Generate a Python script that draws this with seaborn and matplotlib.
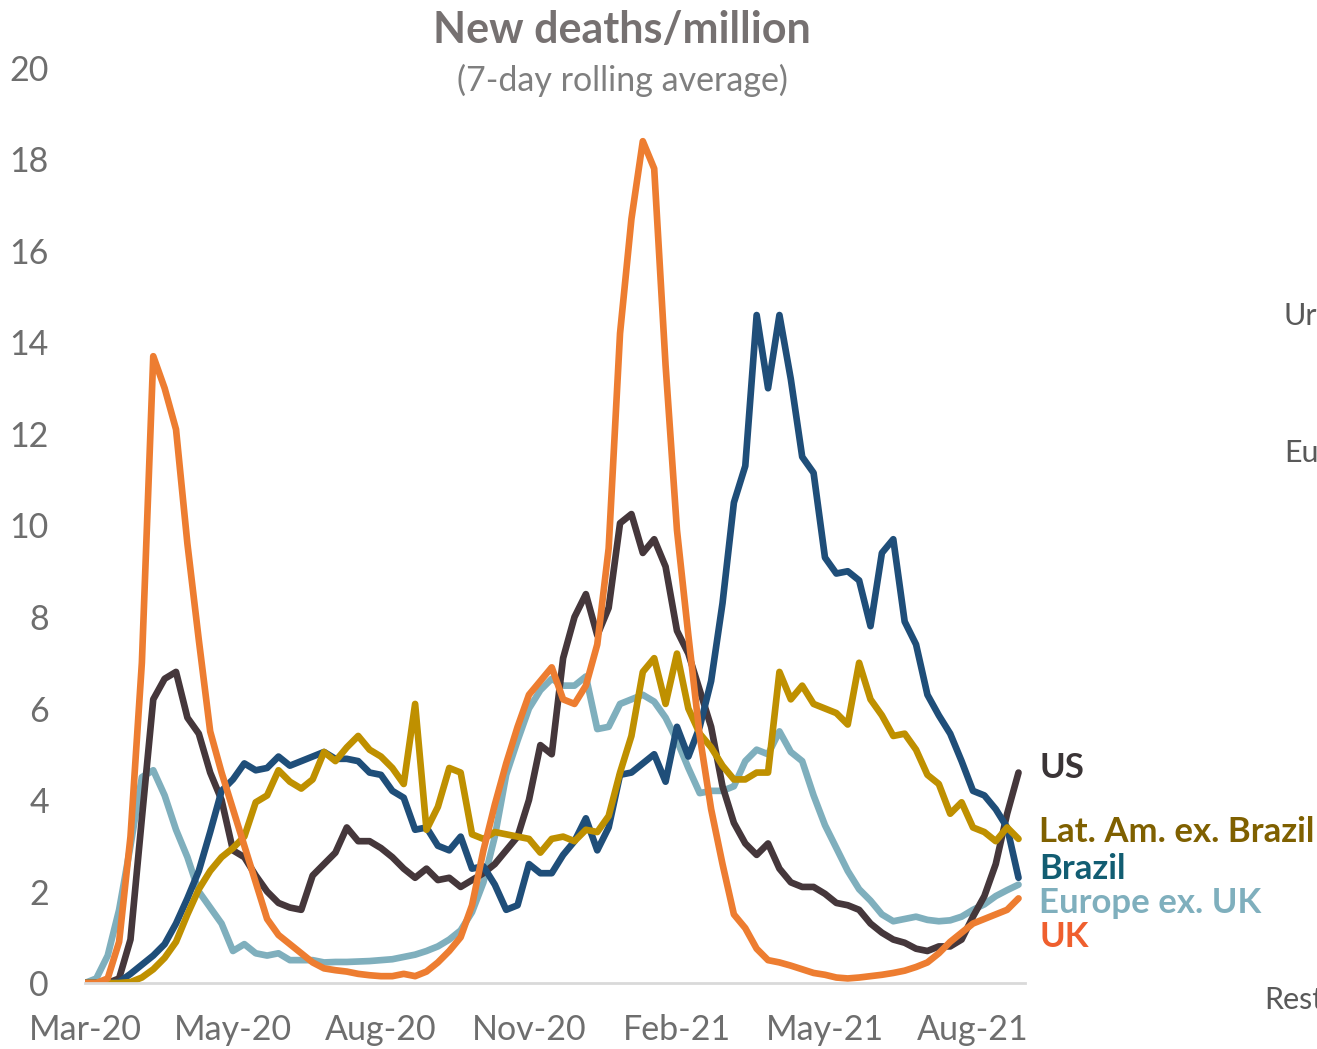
import numpy as np
import pandas as pd
import matplotlib.pyplot as plt
import matplotlib.dates as mdates
import matplotlib.transforms as mtransforms
import seaborn as sns

# weekly readings from 1 Mar 2020, new deaths per million (7-day avg)
start = "2020-03-01"

uk = [0, 0, 0.1, 0.9, 3.2, 7.0, 13.7, 13.0, 12.1, 9.6, 7.5, 5.5, 4.6, 3.8, 3.0, 2.2,
      1.4, 1.05, 0.85, 0.65, 0.45, 0.32, 0.28, 0.25, 0.2, 0.17, 0.15, 0.15, 0.2, 0.15,
      0.25, 0.45, 0.7, 1.0, 1.7, 2.9, 3.9, 4.8, 5.6, 6.3, 6.6, 6.9, 6.2, 6.1, 6.5, 7.4,
      9.5, 14.2, 16.7, 18.4, 17.8, 13.5, 9.9, 7.6, 5.4, 3.8, 2.6, 1.5, 1.2, 0.75, 0.5,
      0.45, 0.38, 0.3, 0.22, 0.18, 0.12, 0.1, 0.12, 0.15, 0.18, 0.22, 0.27, 0.35, 0.45,
      0.65, 0.9, 1.1, 1.3, 1.4, 1.5, 1.6, 1.85]

us = [0, 0, 0, 0.1, 0.95, 3.6, 6.2, 6.65, 6.8, 5.8, 5.45, 4.6, 4.0, 2.9, 2.75, 2.35,
      2.0, 1.75, 1.65, 1.6, 2.35, 2.6, 2.85, 3.4, 3.1, 3.1, 2.95, 2.75, 2.5, 2.3,
      2.5, 2.25, 2.3, 2.1, 2.25, 2.4, 2.6, 2.9, 3.2, 4.0, 5.2, 5.0, 7.1, 8.0, 8.5, 7.6,
      8.2, 10.05, 10.25, 9.4, 9.7, 9.1, 7.7, 7.2, 6.4, 5.6, 4.3, 3.5, 3.05, 2.8, 3.05,
      2.5, 2.2, 2.1, 2.1, 1.95, 1.75, 1.7, 1.6, 1.3, 1.1, 0.95, 0.88, 0.75, 0.7,
      0.8, 0.8, 0.95, 1.45, 1.9, 2.6, 3.7, 4.6]

brazil = [0, 0, 0, 0.02, 0.2, 0.4, 0.6, 0.85, 1.3, 1.85, 2.45, 3.3, 4.2, 4.45, 4.8, 4.65,
          4.7, 4.95, 4.75, 4.85, 4.95, 5.05, 4.9, 4.9, 4.85, 4.6, 4.55, 4.2, 4.05, 3.35,
          3.4, 3.0, 2.9, 3.2, 2.5, 2.55, 2.15, 1.6, 1.7, 2.6, 2.4, 2.4, 2.8, 3.1, 3.6, 2.9,
          3.4, 4.55, 4.6, 4.8, 5.0, 4.4, 5.6, 4.95, 5.6, 6.6, 8.3, 10.5, 11.3, 14.6, 13.0,
          14.6, 13.2, 11.5, 11.15, 9.3, 8.95, 9.0, 8.8, 7.8, 9.4, 9.7, 7.9, 7.4, 6.3,
          5.85, 5.45, 4.85, 4.2, 4.1, 3.8, 3.4, 2.3]

europe = [0, 0.1, 0.6, 1.6, 3.0, 4.5, 4.65, 4.1, 3.35, 2.75, 2.0, 1.65, 1.3, 0.7, 0.85, 0.65,
          0.6, 0.65, 0.5, 0.5, 0.5, 0.45, 0.46, 0.46, 0.47, 0.48, 0.5, 0.52, 0.57, 0.62,
          0.7, 0.8, 0.95, 1.15, 1.55, 2.2, 3.2, 4.55, 5.3, 6.0, 6.4, 6.65, 6.5, 6.5, 6.7, 5.55,
          5.6, 6.1, 6.2, 6.3, 6.15, 5.8, 5.3, 4.7, 4.15, 4.2, 4.2, 4.3, 4.85, 5.1, 5.0,
          5.5, 5.05, 4.85, 4.1, 3.45, 2.95, 2.45, 2.05, 1.8, 1.5, 1.35, 1.4, 1.45, 1.38,
          1.35, 1.37, 1.45, 1.6, 1.72, 1.9, 2.03, 2.15]

latam = [0, 0, 0, 0, 0.02, 0.12, 0.3, 0.55, 0.9, 1.5, 2.05, 2.45, 2.75, 2.95, 3.2, 3.95,
         4.1, 4.65, 4.4, 4.25, 4.45, 5.05, 4.85, 5.15, 5.4, 5.1, 4.95, 4.7, 4.35, 6.1,
         3.35, 3.85, 4.7, 4.6, 3.25, 3.15, 3.3, 3.25, 3.2, 3.15, 2.85, 3.15, 3.2, 3.1, 3.35, 3.3,
         3.65, 4.6, 5.4, 6.8, 7.1, 6.1, 7.2, 6.0, 5.45, 5.15, 4.75, 4.45, 4.45, 4.6, 4.6,
         6.8, 6.2, 6.5, 6.1, 6.0, 5.9, 5.65, 7.0, 6.2, 5.85, 5.4, 5.45, 5.1, 4.55,
         4.35, 3.7, 3.95, 3.4, 3.3, 3.1, 3.4, 3.15]

series = ["Europe ex. UK", "US", "Brazil", "Lat. Am. ex. Brazil", "UK"]
line_colors = {"Europe ex. UK": "#7FAFBD", "US": "#45373B", "Brazil": "#1F4E79",
               "Lat. Am. ex. Brazil": "#BF9000", "UK": "#ED7D31"}
label_colors = {"US": "#3A3436", "Lat. Am. ex. Brazil": "#7F6000", "Brazil": "#125D72",
                "Europe ex. UK": "#7FAFBD", "UK": "#EF5F2E"}
label_y = {"US": 4.7, "Lat. Am. ex. Brazil": 3.3, "Brazil": 2.5, "Europe ex. UK": 1.75, "UK": 1.0}

df = pd.DataFrame({"date": pd.date_range(start, periods=len(uk), freq="7D"),
                   "UK": uk, "US": us, "Brazil": brazil,
                   "Europe ex. UK": europe, "Lat. Am. ex. Brazil": latam})
long = df.melt("date", var_name="series", value_name="value")

sns.set_theme(style="white")
plt.rcParams["font.family"] = ["Lato", "DejaVu Sans"]

fig = plt.figure(figsize=(13.17, 10.49), dpi=100)
ax = fig.add_axes([0.0645, 0.0629, 0.7138, 0.8723])
sns.lineplot(data=long, x="date", y="value", hue="series", hue_order=series,
             palette=line_colors, lw=4.8, ax=ax, legend=False)

t0 = pd.Timestamp(start)
ax.set_xlim(t0, t0 + pd.Timedelta(days=578))
ax.set_ylim(0, 20)
ax.set_xticks(pd.date_range(start, periods=7, freq="91D"))
ax.xaxis.set_major_formatter(mdates.DateFormatter("%b-%y"))
ax.set_yticks(np.arange(0, 21, 2))
ax.tick_params(axis="both", length=0, labelsize=24.5, labelcolor="#6E6E6E")
ax.tick_params(axis="y", pad=26)
ax.tick_params(axis="x", pad=22)
ax.set_xlabel("")
ax.set_ylabel("")
for s in ["top", "right", "left"]:
    ax.spines[s].set_visible(False)
ax.spines["bottom"].set_color("#D9D9D9")
ax.spines["bottom"].set_linewidth(2)

trans = mtransforms.blended_transform_factory(ax.transAxes, ax.transData)
for name, yv in label_y.items():
    ax.text(1.015, yv, name, transform=trans, ha="left", va="center", fontsize=25,
            fontweight="bold", color=label_colors[name], clip_on=False)

fig.text(622 / 1317, 1 - 30 / 1049, "New deaths/million", ha="center", va="center",
         fontsize=31, fontweight="bold", color="#767171")
fig.text(622 / 1317, 1 - 80 / 1049, "(7-day rolling average)", ha="center", va="center",
         fontsize=24.5, color="#7F7F7F")

# labels of the neighbouring chart, cut off at the edge as in the source image
fig.text(1284 / 1317, 1 - 316 / 1049, "Ur", ha="left", va="center", fontsize=22, color="#595959")
fig.text(1284 / 1317, 1 - 453 / 1049, "Eu", ha="left", va="center", fontsize=22, color="#595959")
fig.text(1264 / 1317, 1 - 1000 / 1049, "Rest", ha="left", va="center", fontsize=22, color="#595959")

fig.savefig("out.png", dpi=100)
